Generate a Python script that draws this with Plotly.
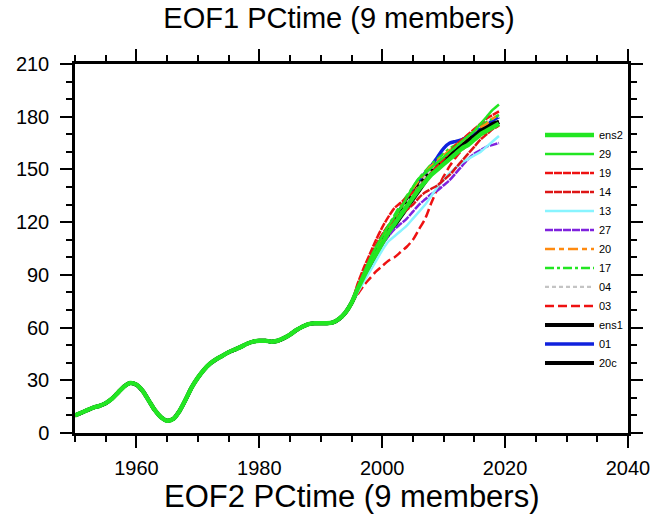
import plotly.graph_objects as go

years = list(range(1950, 2020))

# common history 1950-1995 (all members identical)
common = [10, 11.5, 13, 14.5, 15.5, 17, 19.5, 23, 26.5, 28.5,
          27.5, 24, 18.5, 13, 9, 7, 8, 12.5, 19, 26,
          31.5, 36, 39.5, 42, 44, 46, 47.5, 49, 50.8, 52,
          52.5, 52.5, 52, 52.5, 54, 56, 58.5, 60.5, 62, 62.5,
          62.5, 62.5, 63, 65, 68.5, 74]

# 1996-2019 per member
ens2 = [82, 89, 96, 102, 108, 114, 119, 124, 129, 134, 139, 143, 147, 150, 153, 156, 159, 162, 164, 167, 170, 172, 174, 176]
m29 = [83, 91, 99, 106, 112, 118, 123, 128, 134, 140, 145, 148, 151, 154, 157, 160, 163, 166, 169, 172, 176, 180, 184, 187]
m19 = [85, 94, 102, 110, 117, 123, 128, 131, 134, 137, 140, 144, 148, 152, 156, 160, 164, 167, 170, 173, 176, 179, 181, 183]
m14 = [84, 92, 100, 107, 113, 118, 121, 124, 127, 130, 134, 137, 139, 141, 144, 147, 151, 155, 159, 163, 167, 170, 173, 175]
m13 = [80, 86, 92, 98, 104, 109, 112, 115, 118, 122, 126, 130, 135, 140, 144, 148, 151, 154, 156, 158, 160, 163, 166, 169]
m27 = [81, 88, 95, 101, 107, 112, 116, 119, 122, 126, 130, 133, 136, 138, 141, 144, 148, 152, 156, 159, 161, 163, 164, 165]
m20 = [82, 89, 96, 103, 110, 116, 122, 128, 134, 139, 144, 148, 152, 155, 158, 161, 164, 166, 169, 172, 174, 176, 179, 181]
m17 = [83, 90, 98, 105, 112, 118, 124, 130, 135, 140, 145, 149, 153, 156, 159, 162, 164, 166, 169, 172, 175, 177, 179, 181]
m04 = [82, 89, 96, 103, 109, 114, 119, 125, 131, 136, 141, 146, 150, 154, 157, 160, 163, 166, 169, 172, 175, 177, 179, 180]
m03 = [79, 84, 88, 92, 95, 98, 100, 103, 106, 110, 116, 122, 131, 139, 146, 152, 157, 161, 164, 167, 169, 171, 173, 175]
ens1 = [82, 89, 96, 103, 109, 115, 120, 126, 131, 136, 141, 145, 149, 153, 156, 159, 162, 164, 167, 169, 172, 174, 176, 177]
m01 = [82, 89, 96, 103, 110, 116, 122, 128, 133, 138, 143, 148, 152, 157, 162, 165, 166, 167, 169, 171, 173, 175, 178, 180]
m20c = [81, 88, 95, 102, 108, 113, 118, 123, 128, 133, 138, 143, 148, 152, 155, 158, 161, 164, 166, 169, 171, 173, 175, 177]

names = ["ens2", "29", "19", "14", "13", "27", "20", "17", "04", "03", "ens1", "01", "20c"]
series = [ens2, m29, m19, m14, m13, m27, m20, m17, m04, m03, ens1, m01, m20c]
colors = ["#22e622", "#22e622", "#ee1111", "#dd1515", "#88f4ff", "#7f22dd", "#ff8a10",
          "#22e622", "#c4c4c4", "#ee1111", "#000000", "#1022dd", "#000000"]
widths = [4.5, 2.5, 2.5, 2.5, 2.5, 2.5, 2.5, 2.5, 2.2, 2.5, 4, 3.5, 4]
dashes = ["solid", "solid", "8px,1px", "8px,1px", "solid", "8px,1px", "10px,4px,5px,4px",
          "9px,3px,3px,3px", "4px,3px", "9px,4px", "solid", "solid", "solid"]

fig = go.Figure()
# draw in reverse so ens2 ends on top
for i in reversed(range(len(names))):
    fig.add_trace(go.Scatter(
        x=years, y=common + series[i], mode="lines", name=names[i],
        line=dict(color=colors[i], width=widths[i], dash=dashes[i], shape="spline", smoothing=0.8),
    ))

font = "Liberation Sans, Arial, Helvetica, sans-serif"
axis_common = dict(
    showline=True, linecolor="black", linewidth=2.5, mirror="ticks",
    ticks="outside", ticklen=12, tickwidth=2, tickcolor="black",
    showgrid=False, zeroline=False, automargin=False,
    tickfont=dict(family=font, size=20, color="black"),
)
fig.update_xaxes(range=[1950, 2040], tick0=1960, dtick=20,
                 minor=dict(dtick=5, ticks="outside", ticklen=6, tickwidth=2, tickcolor="black", showgrid=False),
                 ticklabelstandoff=3, **axis_common)
fig.update_yaxes(range=[0, 210], tick0=0, dtick=30,
                 minor=dict(dtick=10, ticks="outside", ticklen=6, tickwidth=2, tickcolor="black", showgrid=False),
                 ticklabelstandoff=7, **axis_common)

fig.update_layout(
    width=653, height=517,
    margin=dict(l=75, r=25, t=64, b=84),
    plot_bgcolor="white", paper_bgcolor="white",
    title=dict(text="EOF1 PCtime (9 members)", x=339/653, xanchor="center",
               y=1 - 18/517, yanchor="middle", yref="container",
               font=dict(family=font, size=29, color="black")),
    legend=dict(traceorder="reversed", x=1.0, y=0.847, xanchor="right", yanchor="top",
                bgcolor="rgba(0,0,0,0)", borderwidth=0, itemwidth=49, tracegroupgap=0,
                font=dict(family=font, size=11, color="black")),
    annotations=[dict(text="EOF2 PCtime (9 members)", xref="paper", yref="paper",
                      x=(352 - 75) / 553, y=-(496 - 432.7) / 368.7, xanchor="center", yanchor="middle",
                      showarrow=False, font=dict(family=font, size=31, color="black"))],
)

fig.write_html("out.html")
